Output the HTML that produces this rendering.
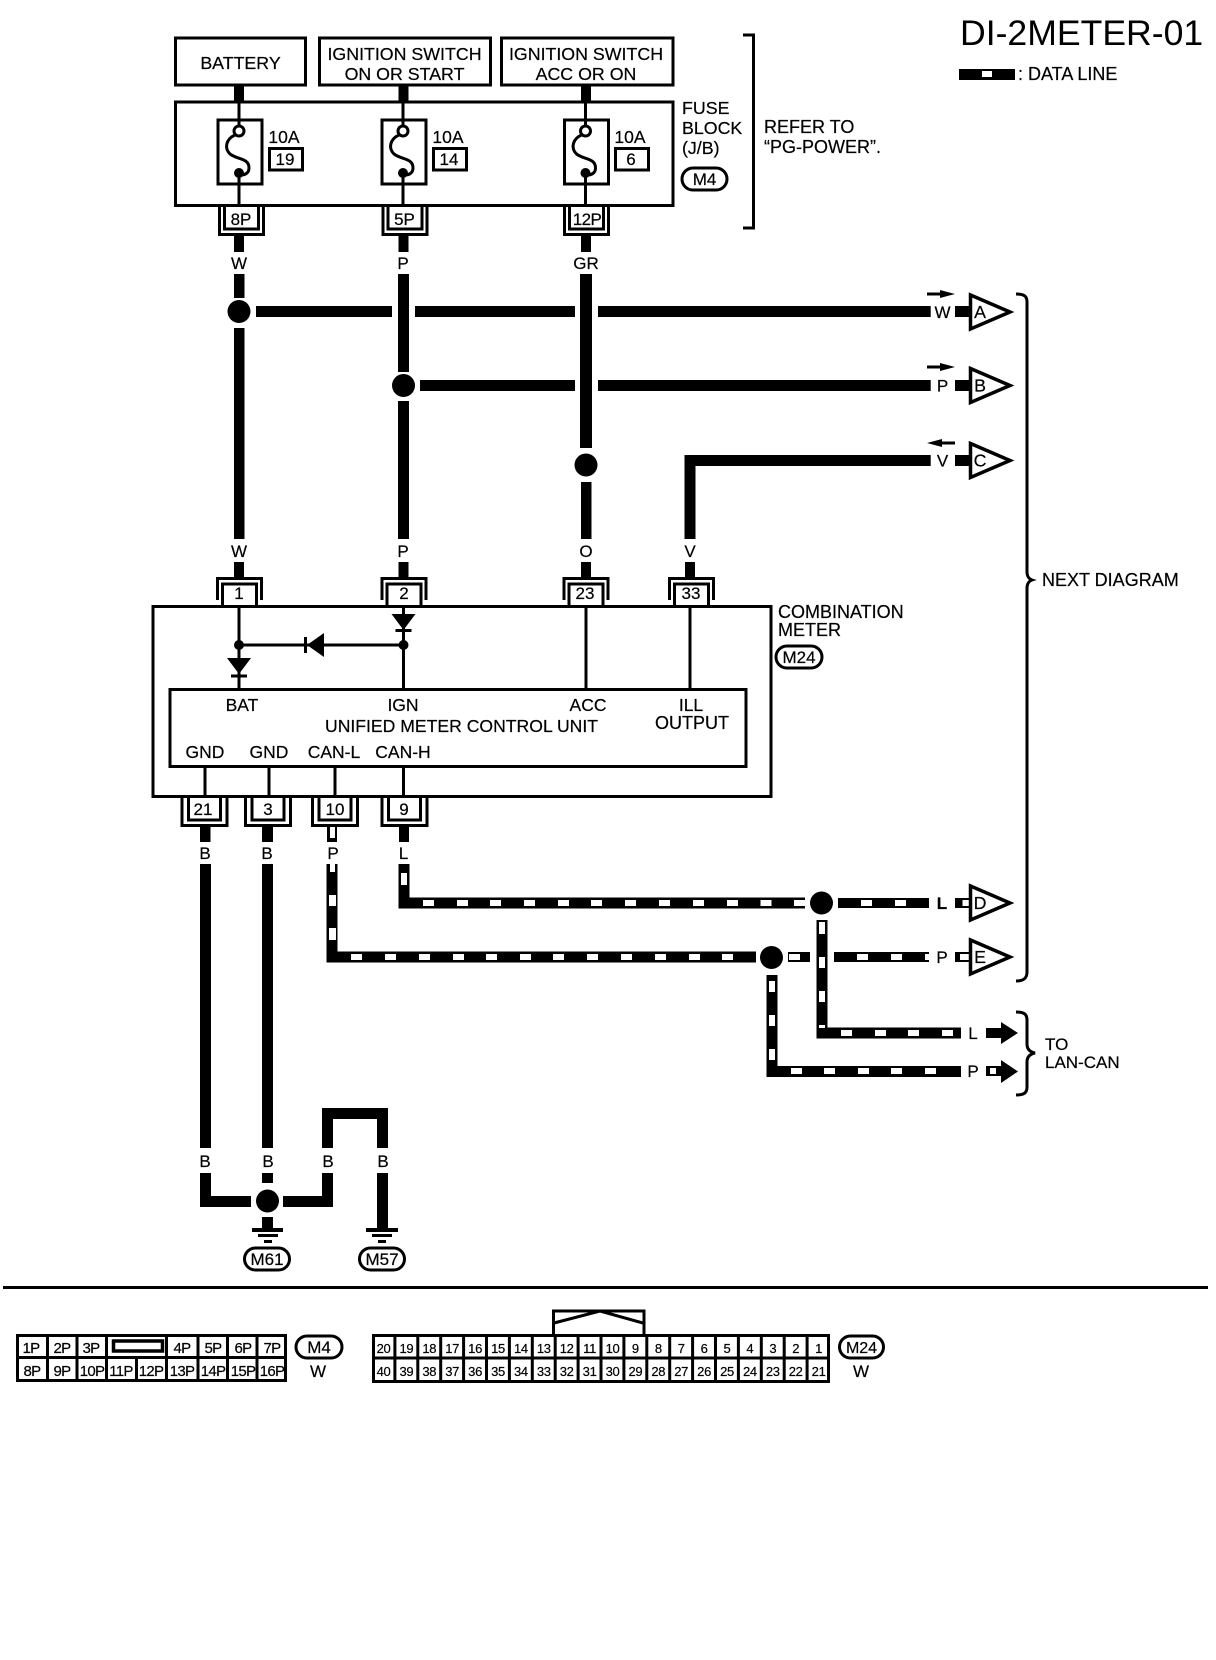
<!DOCTYPE html>
<html><head><meta charset="utf-8"><title>DI-2METER-01</title>
<style>
html,body{margin:0;padding:0;background:#fff}
svg{display:block}
text{font-family:"Liberation Sans",sans-serif;fill:#000;stroke:#000;stroke-width:.2px;font-size:17.8px}
.m{text-anchor:middle}
.s{font-size:17px}
.c4{font-size:15px;text-anchor:middle;letter-spacing:-.7px}
.c2{font-size:13px;text-anchor:middle;letter-spacing:-.3px}
.w{stroke:#000;stroke-width:11;fill:none;stroke-linejoin:miter}
.t{stroke:#000;stroke-width:3;fill:none}
.n{stroke:#000;stroke-width:3;fill:#fff}
</style></head><body>
<svg xmlns="http://www.w3.org/2000/svg" width="1216" height="1660" viewBox="0 0 1216 1660">
<rect width="1216" height="1660" fill="#fff"/>
<defs>
<g id="fuse"><path class="t" d="M239,101V126M239,173V206"/><rect class="t" x="218" y="120" width="44" height="64"/><circle cx="239" cy="131" r="5" fill="#fff" stroke="#000" stroke-width="3"/><circle cx="239" cy="173" r="5" fill="#000"/><path class="t" d="M235,135C226,139 224,148 230,154C238,160 249,158 249,168C249,173 245,175 241,175"/></g>
<g id="cf"><path class="t" d="M-22,207V234.5H22V207"/><path class="t" d="M-17,206V229H17V206" stroke-width="4"/></g>
<g id="ct"><path class="t" d="M-22,600V578.5H22V600"/><path class="t" d="M-17,606V584H17V606" stroke-width="4"/></g>
<g id="cb"><path class="t" d="M-22.500,798V825.500H22.500V798"/><path class="t" d="M-16,797V820H16V797" stroke-width="4"/></g>
<g id="tri"><path d="M970.500,-17L1010,0L970.500,17Z" fill="#fff" stroke="#000" stroke-width="3.500" stroke-linejoin="miter"/></g>
</defs>

<!-- Title and legend -->
<text x="960" y="45" style="font-size:35.600px;stroke-width:0">DI-2METER-01</text>
<rect x="959" y="69" width="56" height="11" fill="#000"/><rect x="982" y="71" width="10" height="6" fill="#fff"/>
<text x="1018" y="80" style="font-size:18px">: DATA LINE</text>

<!-- Source boxes -->
<rect class="t" x="175.500" y="38" width="130" height="47" stroke-width="3.500"/>
<rect class="t" x="319.500" y="38" width="171" height="47" stroke-width="3.500"/>
<rect class="t" x="501.500" y="38" width="171.500" height="47" stroke-width="3.500"/>
<text class="m" x="240.500" y="69">BATTERY</text>
<text class="m" x="404.500" y="60">IGNITION SWITCH</text><text class="m" x="404.500" y="80">ON OR START</text>
<text class="m" x="586" y="60">IGNITION SWITCH</text><text class="m" x="586" y="80">ACC OR ON</text>
<rect x="234" y="86" width="10" height="15" fill="#000"/><rect x="398.500" y="86" width="10" height="15" fill="#000"/><rect x="581" y="86" width="10" height="15" fill="#000"/>

<!-- Fuse block -->
<rect class="t" x="175.500" y="102" width="497.500" height="103.500"/>
<use href="#fuse"/><use href="#fuse" x="164"/><use href="#fuse" x="346.500"/>
<text x="284" y="143" class="m" style="font-size:17.500px">10A</text><text x="448" y="143" class="m" style="font-size:17.500px">10A</text><text x="630" y="143" class="m" style="font-size:17.500px">10A</text>
<rect class="t" x="269.500" y="148.500" width="33" height="21.500"/><rect class="t" x="433.500" y="148.500" width="33" height="21.500"/><rect class="t" x="615.500" y="148.500" width="33" height="21.500"/>
<text x="285" y="165" class="m s">19</text><text x="449" y="165" class="m s">14</text><text x="631" y="165" class="m s">6</text>
<text x="682" y="114">FUSE</text><text x="682" y="134">BLOCK</text><text x="682" y="154">(J/B)</text>
<rect class="t" x="682" y="168" width="45" height="22" rx="11"/><text x="704.500" y="185" class="m s">M4</text>
<path class="t" d="M743,35H753.500V228H743"/>
<text x="764" y="133" style="font-size:18px">REFER TO</text><text x="764" y="153" style="font-size:18px">“PG-POWER”.</text>
<use href="#cf" x="241.500"/><use href="#cf" x="405"/><use href="#cf" x="586.500"/>
<text x="241" y="225" class="m s">8P</text><text x="404.500" y="225" class="m s">5P</text><text x="587" y="225" class="m s" style="letter-spacing:-.6px">12P</text>

<!-- Power wires -->
<rect x="234" y="236" width="10" height="16" fill="#000"/><rect x="398.500" y="236" width="10" height="16" fill="#000"/><rect x="581" y="236" width="10" height="16" fill="#000"/>
<text x="239" y="269" class="m s">W</text><text x="403" y="269" class="m s">P</text><text x="586" y="269" class="m s">GR</text>
<rect x="234" y="274" width="10.500" height="24" fill="#000"/>
<rect x="234" y="328" width="10.500" height="211" fill="#000"/>
<circle cx="239" cy="311.500" r="11.500" fill="#000"/>
<rect x="256" y="306" width="136" height="11" fill="#000"/><rect x="415" y="306" width="160" height="11" fill="#000"/><rect x="598" y="306" width="332.700" height="11" fill="#000"/>
<rect x="398" y="274" width="11" height="98" fill="#000"/><rect x="398" y="401" width="11" height="138" fill="#000"/>
<circle cx="403.500" cy="385.500" r="11.500" fill="#000"/>
<rect x="420" y="380" width="155" height="11" fill="#000"/><rect x="598" y="380" width="332.700" height="11" fill="#000"/>
<rect x="580" y="274" width="12" height="174" fill="#000"/>
<circle cx="586" cy="465" r="11.500" fill="#000"/>
<rect x="581" y="482" width="10.500" height="57" fill="#000"/>
<path d="M690,539V460.500H930.700" class="w"/>
<text x="239" y="557" class="m s">W</text><text x="403" y="557" class="m s">P</text><text x="586" y="557" class="m s">O</text><text x="690" y="557" class="m s">V</text>
<rect x="234" y="562" width="10" height="15" fill="#000"/><rect x="398.500" y="562" width="10" height="15" fill="#000"/><rect x="581" y="562" width="10" height="15" fill="#000"/><rect x="685" y="562" width="10" height="15" fill="#000"/>

<!-- Right connectors A B C -->
<text x="942.500" y="318" class="m s">W</text><text x="942.500" y="391.500" class="m s">P</text><text x="942.500" y="466.500" class="m s">V</text>
<rect x="955" y="306" width="15" height="11" fill="#000"/><rect x="955" y="380" width="15" height="11" fill="#000"/><rect x="955" y="455" width="15" height="11" fill="#000"/>
<use href="#tri" y="312"/><use href="#tri" y="385.500"/><use href="#tri" y="460.500"/>
<text x="980" y="318" class="m">A</text><text x="980" y="391.500" class="m">B</text><text x="980" y="466.500" class="m">C</text>
<path class="t" d="M927,294H943" stroke-width="2.500"/><path d="M940,290L955,294L940,298Z" fill="#000"/>
<path class="t" d="M939,443H955" stroke-width="2.500"/><path d="M942,439L927,443L942,447Z" fill="#000"/>
<path class="t" d="M927,367H943" stroke-width="2.500"/><path d="M940,363L955,367L940,371Z" fill="#000"/>
<path class="t" d="M1016,294C1024,294 1027,296 1027,302V572C1027,576 1029,579 1032,580C1029,581 1027,584 1027,588V972C1027,978 1024,981 1016,981"/>
<text x="1042" y="586" style="font-size:18px">NEXT DIAGRAM</text>

<!-- Combination meter -->
<rect class="t" x="153" y="606.500" width="618" height="190"/>
<rect class="t" x="170" y="689.500" width="576" height="77"/>
<use href="#ct" x="239.500"/><use href="#ct" x="404"/><use href="#ct" x="586"/><use href="#ct" x="691.500"/>
<text x="239" y="599" class="m s">1</text><text x="404" y="599" class="m s">2</text><text x="585" y="599" class="m s">23</text><text x="691" y="599" class="m s">33</text>
<path class="t" d="M239,606V689M403.500,606V689M586,606V689M690,606V689M239,645H403.500"/>
<circle cx="239" cy="645" r="5" fill="#000"/><circle cx="403.500" cy="645" r="5" fill="#000"/>
<path d="M391.500,614H415.500L403.500,630Z" fill="#000"/><path class="t" d="M395.500,630.500H411.500"/>
<path d="M227,658H251L239,674Z" fill="#000"/><path class="t" d="M231,676H247"/>
<path d="M324,633V657L307,645Z" fill="#000"/><path class="t" d="M305.500,637V653"/>
<text class="m" x="242" y="711" style="font-size:17.500px">BAT</text><text class="m" x="403" y="711" style="font-size:17.500px">IGN</text><text class="m" x="588" y="711" style="font-size:17.500px">ACC</text><text class="m" x="691" y="711" style="font-size:17.500px">ILL</text>
<text class="m" x="692" y="729" style="font-size:18px">OUTPUT</text>
<text class="m" x="461.500" y="732" style="font-size:17.600px">UNIFIED METER CONTROL UNIT</text>
<text class="m" x="205" y="758" style="font-size:17.500px">GND</text><text class="m" x="269" y="758" style="font-size:17.500px">GND</text><text class="m" x="334" y="758" style="font-size:17.500px">CAN-L</text><text class="m" x="403" y="758" style="font-size:17.500px">CAN-H</text>
<path class="t" d="M205,767V797M269,767V797M403.500,767V797"/><path class="t" d="M335,767V797" stroke-width="2"/>
<text x="778" y="618" style="font-size:18px">COMBINATION</text><text x="778" y="636" style="font-size:18px">METER</text>
<rect class="t" x="776" y="646" width="46" height="22" rx="11"/><text x="799" y="663" class="m s">M24</text>
<use href="#cb" x="204.500"/><use href="#cb" x="268"/><use href="#cb" x="335"/><use href="#cb" x="404.500"/>
<text x="203" y="815" class="m s">21</text><text x="268" y="815" class="m s">3</text><text x="335" y="815" class="m s">10</text><text x="404" y="815" class="m s">9</text>

<!-- Lower wires -->
<rect x="200" y="827" width="10.500" height="15" fill="#000"/><rect x="262" y="827" width="11" height="15" fill="#000"/>
<rect x="327" y="827" width="10" height="15" fill="#000"/><rect x="330" y="827" width="5" height="11" fill="#fff"/>
<rect x="399" y="827" width="10" height="15" fill="#000"/>
<text x="205" y="859" class="m s">B</text><text x="267" y="859" class="m s">B</text><text x="333" y="859" class="m s">P</text><text x="403.500" y="859" class="m s">L</text>
<rect x="200" y="864" width="11" height="284" fill="#000"/><rect x="262" y="864" width="11" height="284" fill="#000"/>

<!-- CAN-H L line -->
<path class="w" d="M404,864V903H805" stroke-width="10"/>
<g fill="#fff">
<rect x="401" y="873" width="6" height="12"/>
<rect x="423" y="900" width="11" height="6"/><rect x="457" y="900" width="11" height="6"/><rect x="490" y="900" width="11" height="6"/><rect x="524" y="900" width="11" height="6"/><rect x="558" y="900" width="11" height="6"/><rect x="591" y="900" width="11" height="6"/><rect x="625" y="900" width="11" height="6"/><rect x="659" y="900" width="11" height="6"/><rect x="693" y="900" width="11" height="6"/><rect x="727" y="900" width="11" height="6"/><rect x="760.500" y="900" width="11" height="6"/><rect x="794" y="900" width="11" height="6"/>
</g>
<circle cx="821.500" cy="903" r="11.500" fill="#000"/>
<rect x="838" y="898" width="91" height="10" fill="#000"/>
<rect x="861" y="900" width="11" height="6" fill="#fff"/><rect x="895" y="900" width="11" height="6" fill="#fff"/>
<text x="942" y="909" class="m s" style="font-weight:bold">L</text>
<rect x="955" y="898" width="15" height="10" fill="#000"/><rect x="962.500" y="900" width="7" height="6" fill="#fff"/>
<use href="#tri" y="903"/><text x="980" y="909" class="m">D</text>

<!-- CAN-L P line -->
<path class="w" d="M332,864V957H756" stroke-width="10"/>
<g fill="#fff">
<rect x="330" y="864" width="5" height="8"/><rect x="329" y="895" width="7" height="11"/><rect x="329" y="928" width="7" height="12"/>
<rect x="351" y="954" width="11" height="6"/><rect x="385" y="954" width="11" height="6"/><rect x="419" y="954" width="11" height="6"/><rect x="453" y="954" width="11" height="6"/><rect x="486" y="954" width="11" height="6"/><rect x="520" y="954" width="11" height="6"/><rect x="553" y="954" width="11" height="6"/><rect x="587" y="954" width="11" height="6"/><rect x="621" y="954" width="11" height="6"/><rect x="655" y="954" width="11" height="6"/><rect x="689" y="954" width="11" height="6"/><rect x="722" y="954" width="11" height="6"/>
</g>
<circle cx="771.500" cy="957.500" r="11.500" fill="#000"/>
<rect x="788" y="952" width="22" height="10" fill="#000"/><rect x="789" y="954" width="11" height="6" fill="#fff"/>
<rect x="834" y="952" width="95" height="10" fill="#000"/>
<rect x="857" y="954" width="11" height="6" fill="#fff"/><rect x="891" y="954" width="11" height="6" fill="#fff"/><rect x="925" y="954" width="4" height="6" fill="#fff"/>
<text x="942" y="963" class="m s">P</text>
<rect x="955" y="952" width="15" height="10" fill="#000"/><rect x="960" y="954" width="9" height="6" fill="#fff"/>
<use href="#tri" y="957"/><text x="980" y="963" class="m">E</text>

<!-- To LAN-CAN -->
<path class="w" d="M822,920V1033H961" stroke-width="10"/>
<g fill="#fff">
<rect x="819" y="922" width="6" height="12"/><rect x="819" y="957" width="6" height="11"/><rect x="819" y="991" width="6" height="11"/><rect x="819" y="1025" width="6" height="3"/>
<rect x="841" y="1030" width="11" height="6"/><rect x="875" y="1030" width="11" height="6"/><rect x="908" y="1030" width="11" height="6"/><rect x="942" y="1030" width="11" height="6"/>
</g>
<path class="w" d="M772,975V1071.500H961" stroke-width="10.500"/>
<g fill="#fff">
<rect x="769" y="981" width="6" height="11"/><rect x="769" y="1015" width="6" height="11"/><rect x="769" y="1049" width="6" height="11"/>
<rect x="791" y="1068" width="11" height="6"/><rect x="824" y="1068" width="11" height="6"/><rect x="858" y="1068" width="11" height="6"/><rect x="891" y="1068" width="11" height="6"/><rect x="925" y="1068" width="11" height="6"/>
</g>
<text x="973" y="1039" class="m s">L</text><text x="973" y="1077" class="m s">P</text>
<rect x="986" y="1028" width="17" height="10" fill="#000"/><path d="M1001,1022L1018,1033L1001,1044Z" fill="#000"/>
<rect x="986" y="1066" width="17" height="10" fill="#000"/><rect x="990" y="1068" width="6" height="6" fill="#fff"/><path d="M1001,1060L1018,1071.500L1001,1083Z" fill="#000"/>
<path class="t" d="M1016,1012C1024,1012 1027,1014 1027,1020V1044C1027,1049 1030,1052 1035,1053C1030,1054 1027,1057 1027,1062V1087C1027,1093 1024,1095 1016,1095"/>
<text x="1045" y="1050" style="font-size:17px">TO</text><text x="1045" y="1068" style="font-size:17px">LAN-CAN</text>

<!-- Ground -->
<path class="w" d="M327.500,1148V1113.500H382.500V1148" stroke-width="11"/>
<text x="205" y="1167" class="m s">B</text><text x="268" y="1167" class="m s">B</text><text x="328" y="1167" class="m s">B</text><text x="383" y="1167" class="m s">B</text>
<path class="w" d="M205.500,1173V1201.500H251"/>
<path class="w" d="M283,1201.500H327.500V1173"/>
<rect x="262" y="1173" width="11" height="10" fill="#000"/>
<circle cx="267.500" cy="1201" r="11.500" fill="#000"/>
<rect x="262" y="1217" width="11" height="11" fill="#000"/>
<rect x="377" y="1173" width="11" height="55" fill="#000"/>
<rect x="252" y="1228" width="31" height="4" fill="#000"/><rect x="258" y="1234" width="20" height="3" fill="#000"/><rect x="264" y="1240" width="8" height="3" fill="#000"/>
<rect x="366" y="1228" width="32" height="4" fill="#000"/><rect x="372" y="1234" width="20" height="3" fill="#000"/><rect x="378" y="1240" width="8" height="3" fill="#000"/>
<rect class="t" x="244.500" y="1248" width="45" height="22" rx="11"/><text x="267" y="1265" class="m s">M61</text>
<rect class="t" x="359.500" y="1248" width="45" height="22" rx="11"/><text x="382" y="1265" class="m s">M57</text>

<rect x="3" y="1286" width="1205" height="3" fill="#000"/>

<!-- M4 connector -->
<rect class="t" x="17.500" y="1335.500" width="268" height="45" stroke-width="3"/>
<path class="t" d="M17,1357.500H286M47.500,1335V1381M77,1335V1381M106.500,1335V1381M136.500,1358V1381M166.500,1335V1381M198,1335V1381M227.500,1335V1381M257,1335V1381"/>
<rect x="113.500" y="1341" width="49" height="10" fill="#fff" stroke="#000" stroke-width="3.500"/>
<text x="31" y="1353" class="c4">1P</text><text x="62" y="1353" class="c4">2P</text><text x="91" y="1353" class="c4">3P</text><text x="182" y="1353" class="c4">4P</text><text x="213" y="1353" class="c4">5P</text><text x="243" y="1353" class="c4">6P</text><text x="272" y="1353" class="c4">7P</text>
<text x="32" y="1376" class="c4">8P</text><text x="62" y="1376" class="c4">9P</text><text x="92" y="1376" class="c4">10P</text><text x="121" y="1376" class="c4">11P</text><text x="151" y="1376" class="c4">12P</text><text x="182" y="1376" class="c4">13P</text><text x="213" y="1376" class="c4">14P</text><text x="243" y="1376" class="c4">15P</text><text x="272" y="1376" class="c4">16P</text>
<rect class="t" x="296" y="1336" width="46" height="22" rx="11"/><text x="319" y="1353" class="m s">M4</text>
<text x="318" y="1377" class="m s">W</text>

<!-- M24 connector -->
<g transform="translate(-1,0)">
<path class="t" d="M554.500,1334V1311H645V1334"/>
<path class="t" d="M555,1323L601,1311L644,1323"/>
<rect class="t" x="374.500" y="1335.500" width="455" height="46"/>
<path class="t" d="M373,1358H831M395.900,1335V1382M418.800,1335V1382M441.700,1335V1382M464.600,1335V1382M487.500,1335V1382M510.400,1335V1382M533.300,1335V1382M556.200,1335V1382M579.100,1335V1382M602,1335V1382M624.900,1335V1382M647.800,1335V1382M670.700,1335V1382M693.600,1335V1382M716.500,1335V1382M739.400,1335V1382M762.300,1335V1382M785.200,1335V1382M808.100,1335V1382"/>
<text x="384.500" y="1353" class="c2">20</text><text x="407.400" y="1353" class="c2">19</text><text x="430.300" y="1353" class="c2">18</text><text x="453.200" y="1353" class="c2">17</text><text x="476.100" y="1353" class="c2">16</text><text x="499" y="1353" class="c2">15</text><text x="521.900" y="1353" class="c2">14</text><text x="544.800" y="1353" class="c2">13</text><text x="567.700" y="1353" class="c2">12</text><text x="590.600" y="1353" class="c2">11</text><text x="613.500" y="1353" class="c2">10</text><text x="636.400" y="1353" class="c2">9</text><text x="659.300" y="1353" class="c2">8</text><text x="682.200" y="1353" class="c2">7</text><text x="705.100" y="1353" class="c2">6</text><text x="728" y="1353" class="c2">5</text><text x="750.900" y="1353" class="c2">4</text><text x="773.800" y="1353" class="c2">3</text><text x="796.700" y="1353" class="c2">2</text><text x="819.600" y="1353" class="c2">1</text>
<text x="384.500" y="1376" class="c2">40</text><text x="407.400" y="1376" class="c2">39</text><text x="430.300" y="1376" class="c2">38</text><text x="453.200" y="1376" class="c2">37</text><text x="476.100" y="1376" class="c2">36</text><text x="499" y="1376" class="c2">35</text><text x="521.900" y="1376" class="c2">34</text><text x="544.800" y="1376" class="c2">33</text><text x="567.700" y="1376" class="c2">32</text><text x="590.600" y="1376" class="c2">31</text><text x="613.500" y="1376" class="c2">30</text><text x="636.400" y="1376" class="c2">29</text><text x="659.300" y="1376" class="c2">28</text><text x="682.200" y="1376" class="c2">27</text><text x="705.100" y="1376" class="c2">26</text><text x="728" y="1376" class="c2">25</text><text x="750.900" y="1376" class="c2">24</text><text x="773.800" y="1376" class="c2">23</text><text x="796.700" y="1376" class="c2">22</text><text x="819.600" y="1376" class="c2">21</text>
</g>
<rect class="t" x="839.500" y="1336" width="44" height="22" rx="11"/><text x="861.500" y="1353" class="m s" style="font-size:16px">M24</text>
<text x="861" y="1377" class="m s">W</text>
</svg>
</body></html>
